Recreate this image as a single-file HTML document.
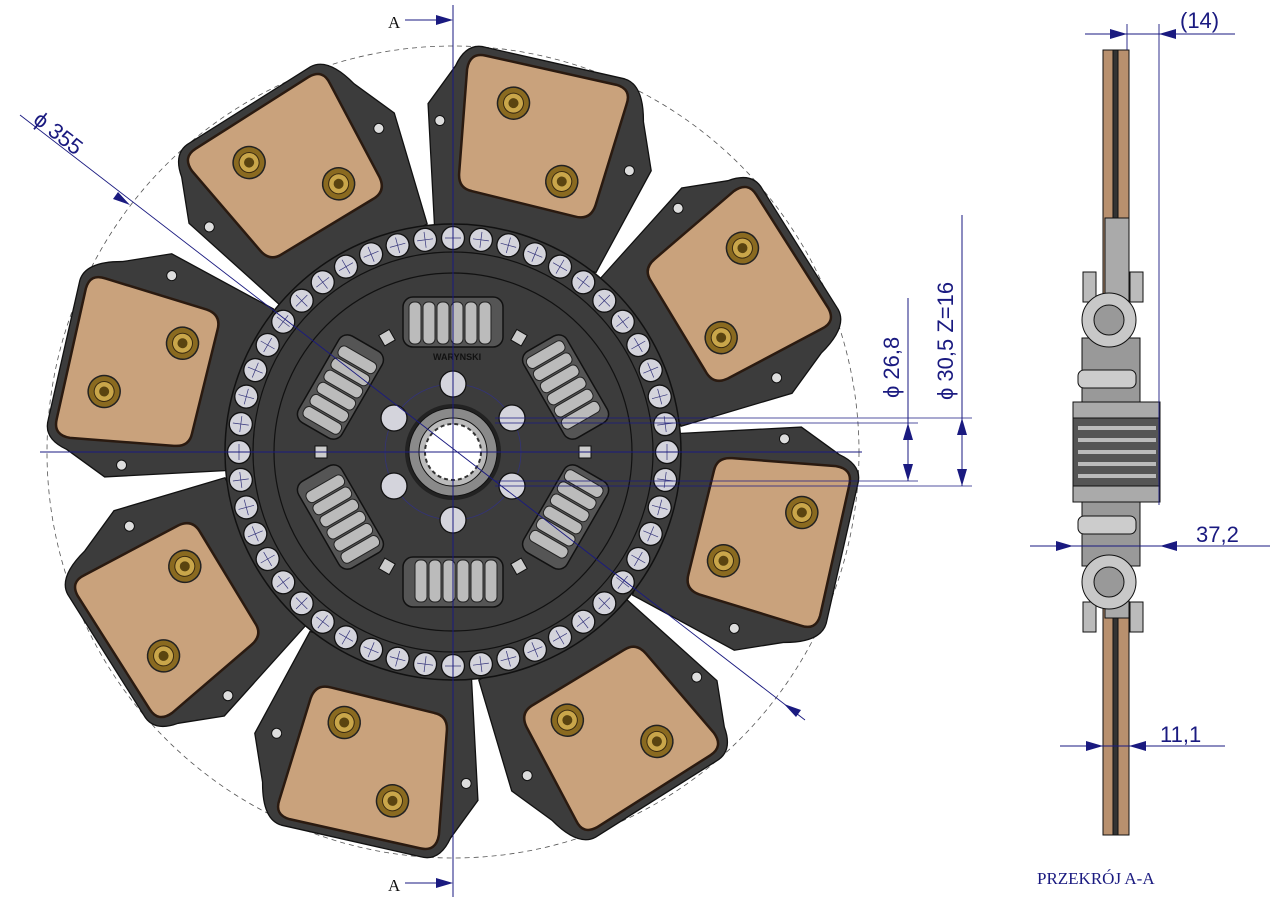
<!DOCTYPE html>
<html><head><meta charset="utf-8"><style>
html,body{margin:0;padding:0;background:#fff;width:1280px;height:905px;overflow:hidden}
svg{display:block}
.dim{font-family:"Liberation Sans",sans-serif;fill:#1a1a80}
</style></head><body>
<svg width="1280" height="905" viewBox="0 0 1280 905" xmlns="http://www.w3.org/2000/svg">
<defs>
 <g id="arm">
  <path d="M -80,-212 L -120,-328 L -104,-372 Q -100,-398 -80,-398 L 62,-406 Q 82,-406 92,-370 L 113,-325 L 88,-212 Z" fill="#3c3c3c" stroke="#111" stroke-width="1.3"/>
  <path d="M -92,-372 Q -94,-389 -78,-390 L 56,-398 Q 72,-398 71,-382 L 69,-276 Q 68,-260 52,-260 L -54,-256 Q -68,-255 -71,-270 Z" fill="#c9a27c" stroke="#2a1a10" stroke-width="2.5"/>
  <circle cx="-104" cy="-315" r="5" fill="#ddd" stroke="#111"/>
  <circle cx="92" cy="-319" r="5" fill="#ddd" stroke="#111"/>
  <g transform="translate(-38,-352)"><circle r="16" fill="#8a6a20" stroke="#222" stroke-width="1.5"/><circle r="10" fill="#c9a64a" stroke="#3a2a10"/><circle r="5" fill="#5a4410"/></g>
  <g transform="translate(30,-290)"><circle r="16" fill="#8a6a20" stroke="#222" stroke-width="1.5"/><circle r="10" fill="#c9a64a" stroke="#3a2a10"/><circle r="5" fill="#5a4410"/></g>
 </g>
 <g id="spring">
  <rect x="-50" y="-25" width="100" height="50" rx="10" fill="#555" stroke="#111" stroke-width="1.5"/>
  <g fill="#bbb" stroke="#222" stroke-width="1">
   <rect x="-44" y="-20" width="12" height="42" rx="5"/><rect x="-30" y="-20" width="12" height="42" rx="5"/><rect x="-16" y="-20" width="12" height="42" rx="5"/><rect x="-2" y="-20" width="12" height="42" rx="5"/><rect x="12" y="-20" width="12" height="42" rx="5"/><rect x="26" y="-20" width="12" height="42" rx="5"/>
  </g>
 </g>
 <g id="ball"><circle cx="0" cy="-214" r="11.5" fill="#d4d4dc" stroke="#111" stroke-width="1.3"/><path d="M -8,-214 H 8 M 0,-222 V -206" stroke="#33337a" stroke-width="0.7"/></g>
</defs>

<circle cx="453" cy="452" r="406" fill="none" stroke="#555" stroke-dasharray="5,4" stroke-width="0.8"/>

<g transform="translate(453,452)">
 <use href="#arm" transform="rotate(16)"/>
 <use href="#arm" transform="rotate(61)"/>
 <use href="#arm" transform="rotate(106)"/>
 <use href="#arm" transform="rotate(151)"/>
 <use href="#arm" transform="rotate(196)"/>
 <use href="#arm" transform="rotate(241)"/>
 <use href="#arm" transform="rotate(286)"/>
 <use href="#arm" transform="rotate(331)"/>
 <circle r="228" fill="#3c3c3c" stroke="#111" stroke-width="1.5"/>
 <circle r="200" fill="none" stroke="#111" stroke-width="1.2"/>
 <circle r="179" fill="none" stroke="#111" stroke-width="1.2"/>
 <g>
  <use href="#ball" transform="rotate(0)"/><use href="#ball" transform="rotate(7.5)"/><use href="#ball" transform="rotate(15)"/><use href="#ball" transform="rotate(22.5)"/><use href="#ball" transform="rotate(30)"/><use href="#ball" transform="rotate(37.5)"/><use href="#ball" transform="rotate(45)"/><use href="#ball" transform="rotate(52.5)"/><use href="#ball" transform="rotate(60)"/><use href="#ball" transform="rotate(67.5)"/><use href="#ball" transform="rotate(75)"/><use href="#ball" transform="rotate(82.5)"/>
  <use href="#ball" transform="rotate(90)"/><use href="#ball" transform="rotate(97.5)"/><use href="#ball" transform="rotate(105)"/><use href="#ball" transform="rotate(112.5)"/><use href="#ball" transform="rotate(120)"/><use href="#ball" transform="rotate(127.5)"/><use href="#ball" transform="rotate(135)"/><use href="#ball" transform="rotate(142.5)"/><use href="#ball" transform="rotate(150)"/><use href="#ball" transform="rotate(157.5)"/><use href="#ball" transform="rotate(165)"/><use href="#ball" transform="rotate(172.5)"/>
  <use href="#ball" transform="rotate(180)"/><use href="#ball" transform="rotate(187.5)"/><use href="#ball" transform="rotate(195)"/><use href="#ball" transform="rotate(202.5)"/><use href="#ball" transform="rotate(210)"/><use href="#ball" transform="rotate(217.5)"/><use href="#ball" transform="rotate(225)"/><use href="#ball" transform="rotate(232.5)"/><use href="#ball" transform="rotate(240)"/><use href="#ball" transform="rotate(247.5)"/><use href="#ball" transform="rotate(255)"/><use href="#ball" transform="rotate(262.5)"/>
  <use href="#ball" transform="rotate(270)"/><use href="#ball" transform="rotate(277.5)"/><use href="#ball" transform="rotate(285)"/><use href="#ball" transform="rotate(292.5)"/><use href="#ball" transform="rotate(300)"/><use href="#ball" transform="rotate(307.5)"/><use href="#ball" transform="rotate(315)"/><use href="#ball" transform="rotate(322.5)"/><use href="#ball" transform="rotate(330)"/><use href="#ball" transform="rotate(337.5)"/><use href="#ball" transform="rotate(345)"/><use href="#ball" transform="rotate(352.5)"/>
 </g>
 <use href="#spring" transform="rotate(0) translate(0,-130)"/>
 <use href="#spring" transform="rotate(60) translate(0,-130)"/>
 <use href="#spring" transform="rotate(120) translate(0,-130)"/>
 <use href="#spring" transform="rotate(180) translate(0,-130)"/>
 <use href="#spring" transform="rotate(240) translate(0,-130)"/>
 <use href="#spring" transform="rotate(300) translate(0,-130)"/>
 <g fill="#ccc" stroke="#111">
  <rect x="-6" y="-138" width="12" height="12" transform="rotate(30)"/><rect x="-6" y="-138" width="12" height="12" transform="rotate(90)"/><rect x="-6" y="-138" width="12" height="12" transform="rotate(150)"/><rect x="-6" y="-138" width="12" height="12" transform="rotate(210)"/><rect x="-6" y="-138" width="12" height="12" transform="rotate(270)"/><rect x="-6" y="-138" width="12" height="12" transform="rotate(330)"/>
 </g>
 <text x="-20" y="-92" font-family="Liberation Sans,sans-serif" font-size="9" font-weight="bold" fill="#111">WARYNSKI</text>
 <circle r="68" fill="none" stroke="#33337a" stroke-width="0.8"/>
 <g fill="#d4d4dc" stroke="#111" stroke-width="1.3">
  <circle cx="0" cy="-68" r="13"/><circle cx="59" cy="-34" r="13"/><circle cx="59" cy="34" r="13"/><circle cx="0" cy="68" r="13"/><circle cx="-59" cy="34" r="13"/><circle cx="-59" cy="-34" r="13"/>
 </g>
 <circle r="48" fill="#222"/>
 <circle r="44" fill="#8a8a8a" stroke="#111"/>
 <circle r="34" fill="#bbb" stroke="#111"/>
 <circle r="28" fill="#fff" stroke="#333" stroke-dasharray="4,3" stroke-width="2"/>
</g>

<g stroke="#1a1a80" stroke-width="1" fill="none">
 <line x1="453" y1="5" x2="453" y2="897"/>
 <line x1="40" y1="452" x2="862" y2="452"/>
 <line x1="20" y1="115" x2="805" y2="720" stroke-width="0.9"/>
 <line x1="495" y1="418" x2="972" y2="418" stroke-width="0.8"/>
 <line x1="495" y1="486" x2="972" y2="486" stroke-width="0.8"/>
 <line x1="495" y1="423" x2="918" y2="423" stroke-width="0.8"/>
 <line x1="495" y1="481" x2="918" y2="481" stroke-width="0.8"/>
 <line x1="908" y1="298" x2="908" y2="481"/>
 <line x1="962" y1="215" x2="962" y2="486"/>
 <line x1="405" y1="20" x2="440" y2="20"/>
 <line x1="405" y1="883" x2="440" y2="883"/>
</g>
<g fill="#1a1a80">
 <polygon points="453,20 436,15 436,25"/>
 <polygon points="453,883 436,878 436,888"/>
 <polygon points="130,205 113,199 118,192"/>
 <polygon points="796,712 779,706 784,699" transform="rotate(180 790 708)"/>
 <polygon points="908,423 903,440 913,440"/>
 <polygon points="908,481 903,464 913,464"/>
 <polygon points="962,418 957,435 967,435"/>
 <polygon points="962,486 957,469 967,469"/>
</g>
<text x="388" y="28" font-family="Liberation Serif,serif" font-size="17" fill="#111">A</text>
<text x="388" y="891" font-family="Liberation Serif,serif" font-size="17" fill="#111">A</text>
<text class="dim" font-size="22" transform="translate(32,122) rotate(38)">ϕ 355</text>
<text class="dim" font-size="22" transform="translate(899,398) rotate(-90)">ϕ 26,8</text>
<text class="dim" font-size="22" transform="translate(953,400) rotate(-90)">ϕ 30,5  Z=16</text>

<g stroke="#111" stroke-width="1">
 <rect x="1103" y="50" width="26" height="785" fill="#b8906e"/>
 <rect x="1113" y="50" width="5" height="785" fill="#333"/>
 <rect x="1105" y="218" width="24" height="400" fill="#aaa"/>
 <rect x="1083" y="272" width="13" height="30" fill="#bbb"/>
 <rect x="1130" y="272" width="13" height="30" fill="#bbb"/>
 <rect x="1083" y="602" width="13" height="30" fill="#bbb"/>
 <rect x="1130" y="602" width="13" height="30" fill="#bbb"/>
 <rect x="1082" y="338" width="58" height="64" fill="#999"/>
 <rect x="1082" y="502" width="58" height="64" fill="#999"/>
 <rect x="1078" y="370" width="58" height="18" rx="6" fill="#ccc"/>
 <rect x="1078" y="516" width="58" height="18" rx="6" fill="#ccc"/>
 <circle cx="1109" cy="320" r="27" fill="#c8c8c8"/>
 <circle cx="1109" cy="320" r="15" fill="#999"/>
 <circle cx="1109" cy="582" r="27" fill="#c8c8c8"/>
 <circle cx="1109" cy="582" r="15" fill="#999"/>
 <rect x="1073" y="402" width="87" height="100" fill="#aaa"/>
 <rect x="1073" y="418" width="87" height="68" fill="#555"/>
 <path d="M1078,428 H1156 M1078,440 H1156 M1078,452 H1156 M1078,464 H1156 M1078,476 H1156" stroke="#bbb" stroke-width="4"/>
</g>
<g stroke="#1a1a80" stroke-width="0.9" fill="none">
 <line x1="1085" y1="34" x2="1235" y2="34"/>
 <line x1="1127" y1="24" x2="1127" y2="50"/>
 <line x1="1159" y1="24" x2="1159" y2="505"/>
 <line x1="1030" y1="546" x2="1270" y2="546"/>
 <line x1="1060" y1="746" x2="1225" y2="746"/>
</g>
<g fill="#1a1a80">
 <polygon points="1127,34 1110,29 1110,39"/>
 <polygon points="1159,34 1176,29 1176,39"/>
 <polygon points="1073,546 1056,541 1056,551"/>
 <polygon points="1160,546 1177,541 1177,551"/>
 <polygon points="1103,746 1086,741 1086,751"/>
 <polygon points="1129,746 1146,741 1146,751"/>
</g>
<text class="dim" x="1180" y="28" font-size="22">(14)</text>
<text class="dim" x="1196" y="542" font-size="22">37,2</text>
<text class="dim" x="1160" y="742" font-size="22">11,1</text>
<text x="1037" y="884" font-family="Liberation Serif,serif" font-size="17" fill="#1a1a80">PRZEKRÓJ A-A</text>
</svg>
</body></html>
